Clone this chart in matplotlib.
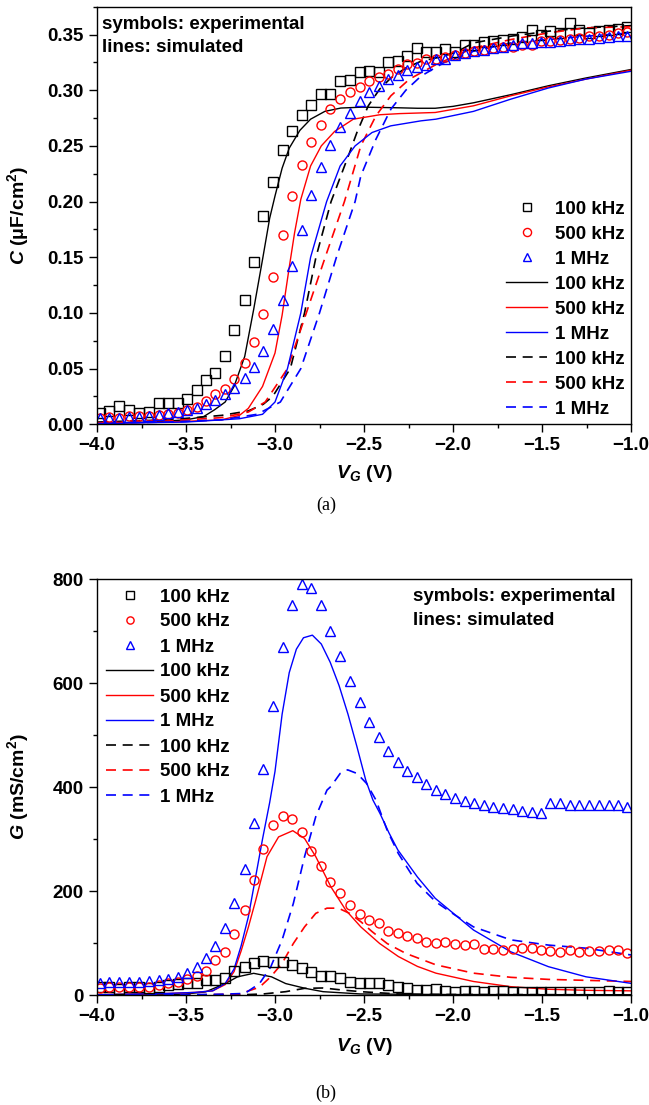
import numpy as np
import matplotlib
matplotlib.use("Agg")
import matplotlib.pyplot as plt
from matplotlib.ticker import MultipleLocator
from matplotlib.lines import Line2D

plt.rcParams['font.family'] = ['Liberation Sans', 'DejaVu Sans']
plt.rcParams['font.weight'] = 'bold'
plt.rcParams['mathtext.fontset'] = 'custom'
plt.rcParams['mathtext.rm'] = 'Liberation Sans:bold'
plt.rcParams['mathtext.bf'] = 'Liberation Sans:bold'
plt.rcParams['mathtext.it'] = 'Liberation Sans:italic:bold'

# gate voltage of the measured points (V)
v_exp = [-3.983, -3.930, -3.874, -3.820, -3.762, -3.710, -3.652, -3.600, -3.547, -3.494,
         -3.440, -3.389, -3.336, -3.283, -3.230, -3.171, -3.119, -3.066, -3.013, -2.956,
         -2.902, -2.849, -2.796, -2.743, -2.691, -2.634, -2.581, -2.524, -2.471, -2.417,
         -2.364, -2.311, -2.258, -2.202, -2.149, -2.096, -2.043, -1.990, -1.934, -1.881,
         -1.828, -1.775, -1.717, -1.664, -1.610, -1.557, -1.506, -1.453, -1.400, -1.343,
         -1.290, -1.238, -1.180, -1.126, -1.073, -1.020]

# (a) measured capacitance, uF/cm2
c_100k = [0.0105, 0.012, 0.016, 0.013, 0.0105, 0.011, 0.019, 0.019, 0.0195, 0.023,
          0.031, 0.040, 0.046, 0.061, 0.085, 0.112, 0.146, 0.187, 0.218, 0.246,
          0.263, 0.278, 0.287, 0.297, 0.297, 0.308, 0.309, 0.316, 0.317, 0.316,
          0.325, 0.326, 0.331, 0.338, 0.334, 0.334, 0.337, 0.334, 0.341, 0.341,
          0.343, 0.344, 0.3455, 0.346, 0.348, 0.3545, 0.350, 0.353, 0.3515, 0.360,
          0.3545, 0.3515, 0.353, 0.354, 0.355, 0.357]
c_500k = [0.0054, 0.0069, 0.0054, 0.0075, 0.0075, 0.0075, 0.0084, 0.009, 0.0105, 0.0129,
          0.0159, 0.021, 0.027, 0.0314, 0.0407, 0.0548, 0.0742, 0.0987, 0.1326, 0.170,
          0.205, 0.2327, 0.2534, 0.2692, 0.2827, 0.2917, 0.2983, 0.303, 0.308, 0.312,
          0.315, 0.3192, 0.3237, 0.3246, 0.3276, 0.3282, 0.330, 0.332, 0.3336, 0.335,
          0.3365, 0.338, 0.3386, 0.339, 0.341, 0.341, 0.344, 0.344, 0.345, 0.346,
          0.347, 0.3485, 0.349, 0.350, 0.3515, 0.352]
c_1m = [0.0054, 0.0054, 0.0054, 0.0069, 0.0069, 0.0075, 0.0084, 0.0099, 0.0108, 0.0129,
        0.0144, 0.0182, 0.0218, 0.0272, 0.0329, 0.0413, 0.0518, 0.066, 0.086, 0.1116,
        0.1424, 0.1745, 0.2056, 0.2313, 0.2507, 0.2672, 0.2797, 0.290, 0.2983, 0.3036,
        0.310, 0.314, 0.3186, 0.321, 0.323, 0.3276, 0.328, 0.332, 0.3336, 0.335,
        0.3365, 0.338, 0.339, 0.341, 0.3425, 0.3425, 0.343, 0.343, 0.344, 0.345,
        0.346, 0.346, 0.347, 0.348, 0.3485, 0.349]

# (a) simulated, solid set
vs_100k = [-4.0, -3.7, -3.5, -3.4, -3.34, -3.28, -3.23, -3.17, -3.12, -3.07, -3.03, -3.0,
           -2.96, -2.92, -2.86, -2.80, -2.72, -2.63, -2.51, -2.4, -2.3, -2.2, -2.1, -2.0,
           -1.885, -1.675, -1.464, -1.253, -1.0]
cs_100k = [0.001, 0.002, 0.004, 0.007, 0.013, 0.020, 0.034, 0.061, 0.103, 0.148, 0.185, 0.205,
           0.230, 0.248, 0.264, 0.274, 0.281, 0.284, 0.2848, 0.2845, 0.2842, 0.2838, 0.2838, 0.2855,
           0.2887, 0.296, 0.304, 0.311, 0.3186]
vs_500k = [-4.0, -3.6, -3.3, -3.2, -3.15, -3.07, -3.0, -2.96, -2.92, -2.89, -2.855, -2.80,
           -2.74, -2.665, -2.56, -2.41, -2.3, -2.1, -1.885, -1.675, -1.464, -1.253, -1.0]
cs_500k = [0.001, 0.002, 0.004, 0.008, 0.0143, 0.034, 0.064, 0.098, 0.141, 0.172, 0.202, 0.232,
           0.250, 0.263, 0.274, 0.278, 0.279, 0.280, 0.286, 0.295, 0.303, 0.310, 0.318]
vs_1m = [-4.0, -3.5, -3.2, -3.07, -3.0, -2.93, -2.855, -2.80, -2.71, -2.634, -2.55, -2.455,
         -2.35, -2.18, -2.096, -1.885, -1.675, -1.464, -1.253, -1.0]
cs_1m = [0.0008, 0.002, 0.005, 0.009, 0.02, 0.05, 0.10, 0.15, 0.20, 0.232, 0.25, 0.262,
         0.268, 0.2725, 0.274, 0.281, 0.292, 0.302, 0.31, 0.317]

# (a) simulated, dashed set
vd_100k = [-4.0, -3.6, -3.3, -3.15, -3.066, -3.013, -2.914, -2.834, -2.77, -2.685, -2.581,
           -2.54, -2.476, -2.412, -2.349, -2.265, -2.18, -2.096, -1.99, -1.885, -1.675,
           -1.464, -1.253, -1.0]
cd_100k = [0.002, 0.004, 0.008, 0.012, 0.018, 0.025, 0.05, 0.10, 0.15, 0.20, 0.244,
           0.262, 0.286, 0.301, 0.311, 0.320, 0.326, 0.329, 0.3336, 0.3425, 0.3485,
           0.353, 0.356, 0.358]
vd_500k = [-4.0, -3.6, -3.3, -3.15, -3.055, -2.93, -2.824, -2.718, -2.61, -2.518, -2.433,
           -2.349, -2.244, -2.096, -1.885, -1.675, -1.464, -1.253, -1.0]
cd_500k = [0.001, 0.003, 0.006, 0.011, 0.02, 0.05, 0.10, 0.15, 0.20, 0.25, 0.277,
           0.295, 0.31, 0.323, 0.338, 0.3455, 0.3515, 0.356, 0.357]
vd_1m = [-4.0, -3.6, -3.3, -3.1, -2.97, -2.855, -2.75, -2.655, -2.55, -2.518, -2.433,
         -2.349, -2.265, -2.18, -2.053, -1.885, -1.675, -1.464, -1.253, -1.0]
cd_1m = [0.001, 0.002, 0.004, 0.009, 0.02, 0.05, 0.10, 0.15, 0.20, 0.223, 0.256,
         0.283, 0.300, 0.3126, 0.3246, 0.335, 0.3425, 0.3455, 0.3485, 0.3515]

# (b) measured conductance, mS/cm2
g_100k = [14.7, 14.7, 11, 14.7, 14.7, 12.8, 16, 19.2, 20.5, 22.4,
          23.7, 28.8, 28.8, 32, 46.8, 53.2, 62.2, 66, 64.1, 62.8,
          57.7, 52.5, 44.8, 37.1, 36.5, 32.1, 25.6, 23.7, 23.7, 22.4,
          19.2, 16, 12.8, 9.6, 9.6, 11, 8.3, 6.4, 7, 7,
          6.4, 8, 7, 6.4, 6.4, 5.1, 6.4, 6.4, 6.4, 5,
          6.4, 5.1, 5.1, 7.5, 5.1, 6.4]
g_500k = [12.8, 14.7, 14.7, 16, 16, 16, 19.2, 22.4, 25.6, 30.1,
          36.5, 46.2, 67.3, 83.3, 117.3, 163.5, 221, 280, 327, 344.8,
          337.8, 312.9, 277.5, 248.7, 217.9, 195.6, 173.1, 155.8, 144.2, 137.9,
          123.7, 119.8, 113.5, 109, 101.3, 100.6, 101.3, 97.5, 96.2, 97.5,
          87.9, 87.9, 86.5, 87.9, 89.8, 89.8, 86.5, 84.6, 83.3, 86.5,
          83.3, 84.6, 84.6, 86.5, 86.5, 81.4]
g_1m = [23.7, 25.6, 25.6, 25.6, 25.6, 26.9, 28.8, 30.1, 35.3, 41.7,
        54.5, 70.5, 94.2, 129.5, 177.5, 241.6, 330, 434.6, 556, 668.6,
        750, 790, 782, 750, 700.6, 652, 604, 563, 525.6, 496.8,
        469.8, 448.7, 431.4, 418.6, 405.8, 394.2, 386.5, 378.2, 373.7, 368.6,
        365.4, 362.1, 359, 357, 354.4, 352.5, 350.6, 368.6, 368.6, 365.4,
        366, 366, 366, 366, 365.4, 362]

# (b) simulated, solid set
vgs_100k = [-4.0, -3.6, -3.5, -3.39, -3.28, -3.21, -3.12, -3.02, -2.94, -2.83, -2.73, -2.52,
            -2.1, -1.0]
gs_100k = [0, 0.5, 2, 6, 22, 35, 41.7, 35, 22, 12.8, 6.4, 2, 1, 0.5]
vgs_500k = [-4.0, -3.6, -3.45, -3.35, -3.28, -3.23, -3.19, -3.15, -3.11, -3.045, -2.98, -2.90,
            -2.834, -2.771, -2.686, -2.602, -2.518, -2.412, -2.307, -2.2, -2.096, -1.885,
            -1.675, -1.464, -1.25, -1.0]
gs_500k = [0.5, 3, 5, 8, 20, 45, 85, 130, 180, 266, 304, 316,
           301, 266, 208, 163, 131, 99, 74, 55, 42, 26,
           16, 11, 9, 8]
vgs_1m = [-4.0, -3.6, -3.45, -3.35, -3.28, -3.23, -3.19, -3.15, -3.11, -3.07, -3.03, -3.0,
          -2.96, -2.92, -2.88, -2.84, -2.79, -2.74, -2.69, -2.64, -2.59, -2.54, -2.49,
          -2.45, -2.41, -2.36, -2.31, -2.2, -2.1, -1.885, -1.675, -1.464, -1.253, -1.0]
gs_1m = [0.5, 3, 5, 8, 22, 50, 95, 150, 225, 300, 370, 430,
         540, 620, 665, 687, 692, 675, 640, 595, 540, 478, 413,
         375, 349, 312, 279, 227, 186, 125, 83, 54.5, 35, 22.4]

# (b) simulated, dashed set
vgd_100k = [-4.0, -3.2, -3.066, -2.94, -2.834, -2.729, -2.623, -2.518, -2.307, -2.096, -1.0]
gd_100k = [0, 0.3, 2, 6.4, 12.8, 13.5, 9.6, 6.4, 2, 1, 0.3]
vgd_500k = [-4.0, -3.4, -3.2, -3.087, -3.024, -2.96, -2.897, -2.834, -2.771, -2.708, -2.644,
            -2.581, -2.518, -2.455, -2.37, -2.265, -2.096, -1.885, -1.675, -1.464, -1.0]
gd_500k = [0, 0.5, 2, 15, 35, 61, 99, 131, 157, 167, 167,
           157, 141, 122, 99, 80, 58, 42, 34, 30, 26]
vgd_1m = [-4.0, -3.5, -3.3, -3.17, -3.087, -3.024, -2.96, -2.897, -2.834, -2.771, -2.708,
          -2.686, -2.634, -2.592, -2.539, -2.486, -2.433, -2.37, -2.307, -2.202, -2.096,
          -1.99, -1.885, -1.675, -1.464, -1.253, -1.0]
gd_1m = [0, 0.5, 1.5, 3, 22, 54, 106, 176, 266, 343, 394,
         401, 426, 433, 426, 407, 375, 317, 272, 215, 179,
         154, 131, 106, 96, 90, 77]

freqs = ['100 kHz', '500 kHz', '1 MHz']
colors = ['black', 'red', 'blue']
markers = ['s', 'o', '^']
dash = (0, (6, 4))
fs = 13.5

fig = plt.figure(figsize=(6.49, 11.05), dpi=100)
ax1 = fig.add_axes([97 / 649, (1105 - 424.3) / 1105, 534 / 649, 417.6 / 1105])
ax2 = fig.add_axes([97 / 649, 110 / 1105, 534 / 649, 416 / 1105])

exp_a = [c_100k, c_500k, c_1m]
sol_a = [(vs_100k, cs_100k), (vs_500k, cs_500k), (vs_1m, cs_1m)]
dsh_a = [(vd_100k, cd_100k), (vd_500k, cd_500k), (vd_1m, cd_1m)]
exp_b = [g_100k, g_500k, g_1m]
sol_b = [(vgs_100k, gs_100k), (vgs_500k, gs_500k), (vgs_1m, gs_1m)]
dsh_b = [(vgd_100k, gd_100k), (vgd_500k, gd_500k), (vgd_1m, gd_1m)]


def draw(ax, exp, sol, dsh):
    for i in range(3):
        ax.plot(sol[i][0], sol[i][1], color=colors[i], lw=1.0)
        ax.plot(dsh[i][0], dsh[i][1], color=colors[i], lw=1.2, linestyle=dash)
    for i in range(3):
        ax.plot(v_exp, exp[i], linestyle='none', marker=markers[i], ms=6.5,
                mfc='none', mec=colors[i], mew=1.0)
    handles = []
    for i in range(3):
        handles.append(Line2D([], [], linestyle='none', marker=markers[i], ms=6.5,
                              mfc='none', mec=colors[i], mew=1.0))
    for i in range(3):
        handles.append(Line2D([], [], color=colors[i], lw=1.0))
    for i in range(3):
        handles.append(Line2D([], [], color=colors[i], lw=1.2, linestyle=dash))
    return handles, freqs * 3


def style(ax):
    ax.set_xlim(-4.0, -1.0)
    ax.xaxis.set_major_locator(MultipleLocator(0.5))
    ax.xaxis.set_minor_locator(MultipleLocator(0.25))
    ax.tick_params(which='both', direction='out', top=False, right=False, width=1.0,
                   labelsize=fs, pad=4)
    ax.tick_params(which='major', length=5.5)
    ax.tick_params(which='minor', length=3)
    for s in ax.spines.values():
        s.set_linewidth(1.0)
    for lab in ax.get_xticklabels() + ax.get_yticklabels():
        lab.set_fontweight('bold')


h, l = draw(ax1, exp_a, sol_a, dsh_a)
style(ax1)
ax1.set_ylim(0, 0.375)
ax1.yaxis.set_major_locator(MultipleLocator(0.05))
ax1.yaxis.set_minor_locator(MultipleLocator(0.025))
ax1.yaxis.set_major_formatter(lambda v, p: f'{v:.2f}')
ax1.legend(h, l, loc='lower right', bbox_to_anchor=(1.0, 0.0), frameon=False,
           fontsize=fs, handlelength=2.2, handletextpad=0.4, labelspacing=0.42,
           borderaxespad=0.15, borderpad=0.2, markerscale=0.9)
ax1.text(0.01, 0.978, 'symbols: experimental\nlines: simulated', transform=ax1.transAxes,
         ha='left', va='top', fontsize=fs, fontweight='bold', linespacing=1.5)
ax1.set_ylabel(r'$C$ ($\mathregular{\mu}$F/cm$^2$)', fontsize=14, fontweight='bold')
ax1.set_xlabel(r'$V_G$ (V)', fontsize=14, fontweight='bold')
ax1.yaxis.set_label_coords(-0.124, 0.5)
ax1.xaxis.set_label_coords(0.5, -0.092)

h, l = draw(ax2, exp_b, sol_b, dsh_b)
style(ax2)
ax2.set_ylim(0, 800)
ax2.yaxis.set_major_locator(MultipleLocator(200))
ax2.yaxis.set_minor_locator(MultipleLocator(100))
ax2.legend(h, l, loc='upper left', bbox_to_anchor=(0.0, 1.0), frameon=False,
           fontsize=fs, handlelength=2.5, handletextpad=0.35, labelspacing=0.42,
           borderaxespad=0.3, borderpad=0.2, markerscale=0.8)
ax2.text(0.591, 0.978, 'symbols: experimental\nlines: simulated', transform=ax2.transAxes,
         ha='left', va='top', fontsize=fs, fontweight='bold', linespacing=1.5)
ax2.set_ylabel(r'$G$ (mS/cm$^2$)', fontsize=14, fontweight='bold')
ax2.set_xlabel(r'$V_G$ (V)', fontsize=14, fontweight='bold')
ax2.yaxis.set_label_coords(-0.124, 0.5)
ax2.xaxis.set_label_coords(0.5, -0.098)

fig.text(326 / 649, 1 - 505 / 1105, '(a)', family='Liberation Serif', fontweight='normal',
         fontsize=13, ha='center', va='center')
fig.text(326 / 649, 1 - 1093 / 1105, '(b)', family='Liberation Serif', fontweight='normal',
         fontsize=13, ha='center', va='center')

fig.savefig('out.png', dpi=100)
